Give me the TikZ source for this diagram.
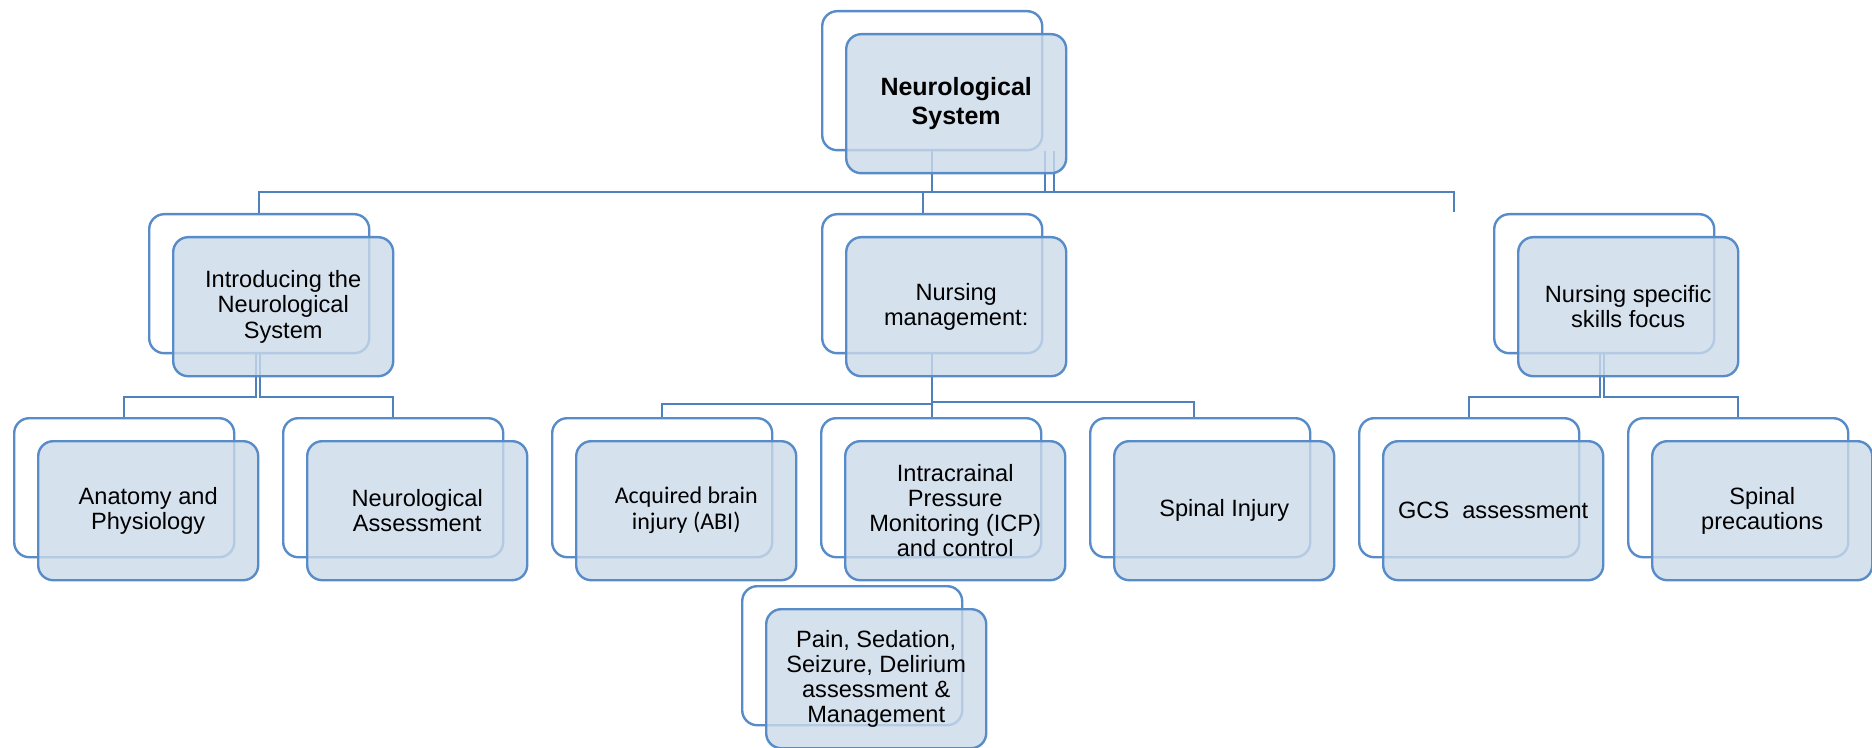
\documentclass[tikz,border=0pt]{standalone}
\usepackage{fontspec}
\setmainfont{Liberation Sans}
\newfontfamily\calibri{Carlito}
\usepackage{tikz}
\usetikzlibrary{calc}
\usepackage{xcolor}
\definecolor{boxline}{RGB}{88,140,200}
\definecolor{boxfill}{RGB}{204,218,234}
\definecolor{linkline}{RGB}{79,129,189}
\tikzset{
    backbox/.style={draw=boxline,line width=1.2pt,rounded corners=7.5pt,
        minimum width=110pt,minimum height=69.5pt,inner sep=0pt,anchor=north west},
    frontbox/.style={backbox,fill=boxfill,fill opacity=0.8,text opacity=1,
        align=center,font=\fontsize{11.8}{12.6}\selectfont},
    link/.style={draw=linkline,line width=1pt},
}

\begin{document}
\begin{tikzpicture}[x=0.5pt,y=-0.5pt]
    \useasboundingbox (0,0) rectangle (1872,748);

    \node[backbox] (neuro-back) at (821,10) {};
    \node[backbox] (intro-back) at (148,213) {};
    \node[backbox] (mgmt-back) at (821,213) {};
    \node[backbox] (skills-back) at (1493,213) {};
    \node[backbox] (anat-back) at (13,417) {};
    \node[backbox] (assess-back) at (282,417) {};
    \node[backbox] (abi-back) at (551,417) {};
    \node[backbox] (icp-back) at (820,417) {};
    \node[backbox] (spinal-back) at (1089,417) {};
    \node[backbox] (pain-back) at (741,585) {};
    \node[backbox] (gcs-back) at (1358,417) {};
    \node[backbox] (prec-back) at (1627,417) {};

    \coordinate (bus-r) at (1454,192);
    \coordinate (bus-end) at (1454,212);
    \draw[link] (intro-back.north) |- (bus-r) -- (bus-end);
    \draw[link] (neuro-back.south) -- (neuro-back.south |- bus-r);
    \draw[link] ([xshift=1pt]neuro-back.south east) -- ([xshift=1pt]neuro-back.south east |- bus-r);
    \draw[link] ([xshift=5.5pt]neuro-back.south east) -- ([xshift=5.5pt]neuro-back.south east |- bus-r);
    \draw[link] ([xshift=-4.5pt]mgmt-back.north) -- ([xshift=-4.5pt]mgmt-back.north |- bus-r);

    \draw[link] ([xshift=-1.5pt]intro-back.south) -- ++(0,43) -| (anat-back.north);
    \draw[link] ([xshift=0.5pt]intro-back.south) -- ++(0,43) -| (assess-back.north);

    \draw[link] (mgmt-back.south) -- (mgmt-back.south |- icp-back.north);
    \draw[link] (mgmt-back.south) ++(0,50) -| (abi-back.north);
    \draw[link] (mgmt-back.south) ++(0,48) -| ([xshift=-3pt]spinal-back.north);

    \draw[link] ([xshift=-2pt]skills-back.south) -- ++(0,43) -| (gcs-back.north);
    \draw[link] (skills-back.south) -- ++(0,43) -| (prec-back.north);

    \node[frontbox,font=\bfseries\fontsize{12.5}{14.6}\selectfont] (neuro)
        at ($(neuro-back.north west)+(24,23)$) {Neurological\\System};
    \node[frontbox] (intro) at ($(intro-back.north west)+(24,23)$)
        {Introducing the\\Neurological\\System};
    \node[frontbox] (mgmt) at ($(mgmt-back.north west)+(24,23)$)
        {Nursing\\management:};
    \node[frontbox] (skills) at ($(skills-back.north west)+(24,23)$)
        {Nursing specific\\skills focus};
    \node[frontbox] (anat) at ($(anat-back.north west)+(24,23)$)
        {Anatomy and\\Physiology};
    \node[frontbox] (assess) at ($(assess-back.north west)+(24,23)$)
        {Neurological\\Assessment};
    \node[frontbox,font=\calibri\fontsize{12}{13}\selectfont] (abi)
        at ($(abi-back.north west)+(24,23)$) {Acquired brain\\injury (ABI)};
    \node[frontbox] (icp) at ($(icp-back.north west)+(24,23)$)
        {Intracrainal\\Pressure\\Monitoring (ICP)\\and control};
    \node[frontbox] (spinal) at ($(spinal-back.north west)+(24,23)$)
        {Spinal Injury};
    \node[frontbox] (pain) at ($(pain-back.north west)+(24,23)$)
        {Pain, Sedation,\\Seizure, Delirium\\assessment \&\\Management};
    \node[frontbox] (gcs) at ($(gcs-back.north west)+(24,23)$)
        {GCS\ \ assessment};
    \node[frontbox] (prec) at ($(prec-back.north west)+(24,23)$)
        {Spinal\\precautions};

\end{tikzpicture}
\end{document}
